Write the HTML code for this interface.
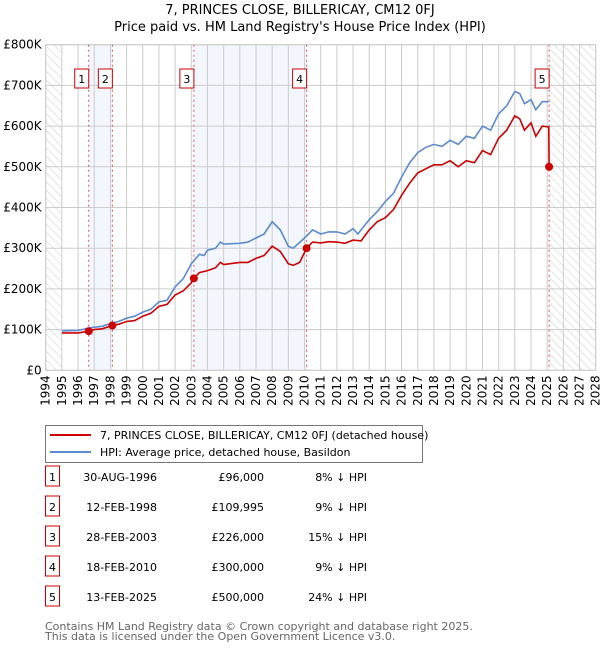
<!DOCTYPE html>
<html><head><meta charset="utf-8"><style>
body{margin:0;background:#fff;font-family:"DejaVu Sans","Liberation Sans",sans-serif;}
svg text{font-family:"DejaVu Sans","Liberation Sans",sans-serif;}
</style></head><body>
<svg id="c" width="600" height="650" xmlns="http://www.w3.org/2000/svg"></svg>
<script>
const hpiYears=[1995,1996,1996.7,1997,1997.5,1998,1998.5,1999,1999.5,2000,2000.5,2001,2001.5,2002,2002.5,2003,2003.5,2003.8,2004,2004.5,2004.8,2005,2006,2006.5,2007,2007.5,2008,2008.5,2009,2009.3,2010,2010.5,2011,2011.5,2012,2012.5,2013,2013.3,2013.5,2014,2014.5,2015,2015.5,2016,2016.5,2017,2017.5,2018,2018.5,2019,2019.5,2020,2020.5,2021,2021.5,2022,2022.5,2023,2023.3,2023.6,2024,2024.3,2024.7,2025.1];
const hpiValues=[97,98,104,106,108,115,120,128,133,143,150,168,172,205,225,262,285,282,295,300,315,310,312,315,325,335,365,345,305,300,325,345,335,340,340,335,348,335,345,370,390,415,435,475,510,535,548,555,550,565,555,575,570,600,590,630,650,685,680,655,665,640,660,660];
const priceYears=[1995,1996,1996.66,1997,1997.5,1998.12,1998.5,1999,1999.5,2000,2000.5,2001,2001.5,2002,2002.5,2003,2003.16,2003.5,2004,2004.5,2004.8,2005,2006,2006.5,2007,2007.5,2008,2008.5,2009,2009.3,2009.7,2010.13,2010.5,2011,2011.5,2012,2012.5,2013,2013.5,2014,2014.5,2015,2015.5,2016,2016.5,2017,2017.5,2018,2018.5,2019,2019.5,2020,2020.5,2021,2021.5,2022,2022.5,2023,2023.3,2023.6,2024,2024.3,2024.7,2025.1,2025.12];
const priceValues=[92,92,96,100,102,110,113,120,122,133,140,157,162,185,195,215,226,240,245,252,265,260,265,265,275,282,305,292,262,258,265,300,315,313,316,315,312,320,318,345,365,375,395,430,460,485,495,505,505,515,500,515,510,540,530,570,590,625,618,590,608,575,600,598,500];
const sales=[{n:"1",y:1996.66,v:96},{n:"2",y:1998.12,v:109.995},{n:"3",y:2003.16,v:226},{n:"4",y:2010.13,v:300},{n:"5",y:2025.12,v:500}];
const yTicks=[0,100,200,300,400,500,600,700,800];
const yTickLabels=["£0","£100K","£200K","£300K","£400K","£500K","£600K","£700K","£800K"];
const rows=[["1","30-AUG-1996","£96,000","8% ↓ HPI"],["2","12-FEB-1998","£109,995","9% ↓ HPI"],["3","28-FEB-2003","£226,000","15% ↓ HPI"],["4","18-FEB-2010","£300,000","9% ↓ HPI"],["5","13-FEB-2025","£500,000","24% ↓ HPI"]];

const X0=45.7,X1=595.7,Y0=370.3,Y1=44.7;
const xs=y=>X0+(y-1994)/(2028-1994)*(X1-X0);
const ys=v=>Y0-v/800*(Y0-Y1);
const svg=document.getElementById('c');
const NS="http://www.w3.org/2000/svg";
function el(t,a,p){const e=document.createElementNS(NS,t);for(const k in a)e.setAttribute(k,a[k]);(p||svg).appendChild(e);return e;}

const defs=el('defs',{});
const pat=el('pattern',{id:'h',width:6,height:6,patternUnits:'userSpaceOnUse',patternTransform:'rotate(-45)'},defs);
el('line',{x1:0,y1:0,x2:0,y2:6,stroke:'#ccc','stroke-width':1},pat);

let t=el('text',{x:300,y:14,'text-anchor':'middle','font-size':13});t.textContent="7, PRINCES CLOSE, BILLERICAY, CM12 0FJ";

t=el('text',{x:300,y:31,'text-anchor':'middle','font-size':13});t.textContent="Price paid vs. HM Land Registry's House Price Index (HPI)";


let r=el('rect',{x:xs(sales[0].y),y:Y1,width:xs(sales[1].y)-xs(sales[0].y),height:Y0-Y1,fill:'#f3f6fd'});

r=el('rect',{x:xs(sales[2].y),y:Y1,width:xs(sales[3].y)-xs(sales[2].y),height:Y0-Y1,fill:'#f3f6fd'});

r=el('rect',{x:X0,y:Y1,width:xs(1995)-X0,height:Y0-Y1,fill:'url(#h)'});

r=el('rect',{x:xs(2025.12),y:Y1,width:X1-xs(2025.12),height:Y0-Y1,fill:'url(#h)'});


for(let yr=1994;yr<=2028;yr++){
  const l=el('line',{x1:xs(yr),x2:xs(yr),y1:Y1,y2:Y0,stroke:'#ccc','stroke-width':1});
  
  const tx=el('text',{transform:`translate(${xs(yr)+4},${Y0+5}) rotate(-90)`,'text-anchor':'end','font-size':12});
  tx.textContent=yr;
  
}
yTicks.forEach((v,i)=>{
  const l=el('line',{x1:X0,x2:X1,y1:ys(v),y2:ys(v),stroke:'#ccc','stroke-width':1});
  
  const tx=el('text',{x:X0-4,y:ys(v)+4,'text-anchor':'end','font-size':12});
  tx.textContent=yTickLabels[i];
  
});
let b=el('rect',{x:X0,y:Y1,width:X1-X0,height:Y0-Y1,fill:'none',stroke:'#ccc'});


sales.forEach(s=>{
  const l=el('line',{x1:xs(s.y),x2:xs(s.y),y1:Y1,y2:Y0,stroke:'#e05050','stroke-width':1,'stroke-dasharray':'2,3'});
  
  const g=el('g',{});
  
  el('rect',{x:xs(s.y)-14,y:69,width:14,height:19,fill:'#fff',stroke:'#c00'},g);
  const tx=el('text',{x:xs(s.y)-7,y:83,'text-anchor':'middle','font-size':11},g);tx.textContent=s.n;
});

function path(xa,va,color,name){
  const d=xa.map((y,i)=>(i?'L':'M')+xs(y).toFixed(1)+','+ys(va[i]).toFixed(1)).join('');
  const p=el('path',{d,fill:'none',stroke:color,'stroke-width':1.6});
  
}
path(hpiYears,hpiValues,'#5b8bd0','hpi-line');
path(priceYears,priceValues,'#cc0000','price-line');
sales.forEach(s=>{
  const c=el('circle',{cx:xs(s.y),cy:ys(s.v),r:4,fill:'#cc0000'});
  
});

const lg=el('g',{});
el('rect',{x:45.5,y:425.5,width:377,height:37,fill:'#fff',stroke:'#777'},lg);
el('line',{x1:50,x2:91,y1:435,y2:435,stroke:'#cc0000','stroke-width':2},lg);
el('line',{x1:50,x2:91,y1:452,y2:452,stroke:'#5b8bd0','stroke-width':2},lg);
t=el('text',{x:100,y:439,'font-size':11},lg);t.textContent="7, PRINCES CLOSE, BILLERICAY, CM12 0FJ (detached house)";

t=el('text',{x:100,y:456,'font-size':11},lg);t.textContent="HPI: Average price, detached house, Basildon";


rows.forEach((row,i)=>{
  const cy=483+i*30;
  const g=el('g',{});
  el('rect',{x:45.5,y:cy-17,width:14,height:20,fill:'#fff',stroke:'#c00'},g);
  let tx=el('text',{x:52.5,y:cy-2,'text-anchor':'middle','font-size':11},g);tx.textContent=row[0];
  tx=el('text',{x:157,y:cy-2,'text-anchor':'end','font-size':11},g);tx.textContent=row[1];
  tx=el('text',{x:264,y:cy-2,'text-anchor':'end','font-size':11},g);tx.textContent=row[2];
  tx=el('text',{x:367,y:cy-2,'text-anchor':'end','font-size':11},g);tx.textContent=row[3];
});
t=el('text',{x:45,y:630,'font-size':11,fill:'#666'});t.textContent="Contains HM Land Registry data © Crown copyright and database right 2025.";

t=el('text',{x:45,y:640,'font-size':11,fill:'#666'});t.textContent="This data is licensed under the Open Government Licence v3.0.";

</script>
</body></html>
